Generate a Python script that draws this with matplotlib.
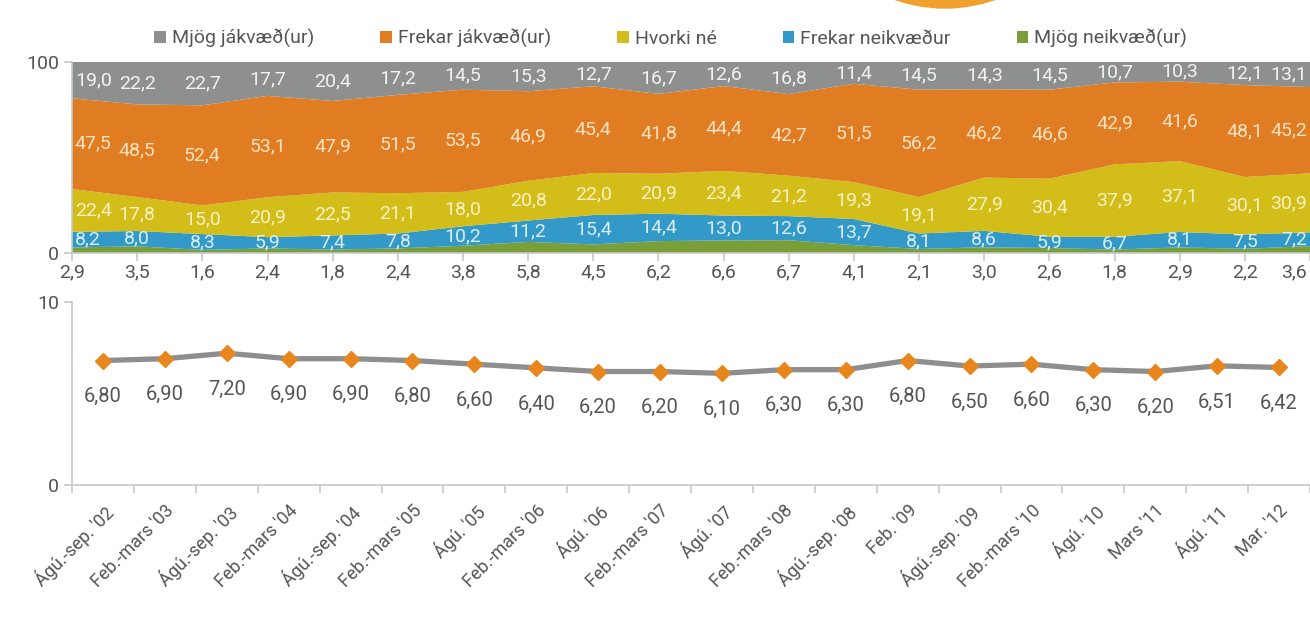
import numpy as np
import matplotlib.pyplot as plt
from matplotlib.patches import Circle

plt.rcParams['font.family'] = ['Roboto', 'DejaVu Sans']

periods = ["Ágú.-sep. '02", "Feb.-mars '03", "Ágú.-sep. '03", "Feb.-mars '04",
           "Ágú.-sep. '04", "Feb.-mars '05", "Ágú. '05", "Feb.-mars '06",
           "Ágú. '06", "Feb.-mars '07", "Ágú. '07", "Feb.-mars '08",
           "Ágú.-sep. '08", "Feb. '09", "Ágú.-sep. '09", "Feb.-mars '10",
           "Ágú. '10", "Mars '11", "Ágú. '11", "Mar. '12"]

mjog_jakv = [19.0, 22.2, 22.7, 17.7, 20.4, 17.2, 14.5, 15.3, 12.7, 16.7,
             12.6, 16.8, 11.4, 14.5, 14.3, 14.5, 10.7, 10.3, 12.1, 13.1]
frekar_jakv = [47.5, 48.5, 52.4, 53.1, 47.9, 51.5, 53.5, 46.9, 45.4, 41.8,
               44.4, 42.7, 51.5, 56.2, 46.2, 46.6, 42.9, 41.6, 48.1, 45.2]
hvorki = [22.4, 17.8, 15.0, 20.9, 22.5, 21.1, 18.0, 20.8, 22.0, 20.9,
          23.4, 21.2, 19.3, 19.1, 27.9, 30.4, 37.9, 37.1, 30.1, 30.9]
frekar_neikv = [8.2, 8.0, 8.3, 5.9, 7.4, 7.8, 10.2, 11.2, 15.4, 14.4,
                13.0, 12.6, 13.7, 8.1, 8.6, 5.9, 6.7, 8.1, 7.5, 7.2]
mjog_neikv = [2.9, 3.5, 1.6, 2.4, 1.8, 2.4, 3.8, 5.8, 4.5, 6.2,
              6.6, 6.7, 4.1, 2.1, 3.0, 2.6, 1.8, 2.9, 2.2, 3.6]

einkunn = [6.80, 6.90, 7.20, 6.90, 6.90, 6.80, 6.60, 6.40, 6.20, 6.20,
           6.10, 6.30, 6.30, 6.80, 6.50, 6.60, 6.30, 6.20, 6.51, 6.42]

series_names = ['Mjög neikvæð(ur)', 'Frekar neikvæður', 'Hvorki né',
                'Frekar jákvæð(ur)', 'Mjög jákvæð(ur)']
colors = ['#7a9e38', '#3399c8', '#d3bd18', '#e07c22', '#8e8f8f']
label_colors = [None, '#d8eef3', '#f7f1c4', '#fbe2c2', '#f2f2f2']

txt_grey = '#555555'
axis_grey = '#c8c8c8'

fig = plt.figure(figsize=(13.1, 6.27), dpi=100)

# efri mynd - staflad svæði
ax1 = fig.add_axes([0.055, 0.5965, 0.945, 0.3046])
x = np.arange(len(periods))
stack = [mjog_neikv, frekar_neikv, hvorki, frekar_jakv, mjog_jakv]
ax1.stackplot(x, *stack, colors=colors, labels=series_names, lw=0)
ax1.set_xlim(0, len(periods) - 1)
ax1.set_ylim(0, 100)
ax1.set_yticks([0, 100])
ax1.set_yticklabels(['0', '100'], color=txt_grey, fontsize=14)
ax1.set_xticks(x)
ax1.set_xticklabels([])
ax1.tick_params(axis='both', color=axis_grey, length=6, width=1.2)
for s in ['top', 'right']:
    ax1.spines[s].set_visible(False)
ax1.spines['left'].set_color(axis_grey)
ax1.spines['bottom'].set_color(axis_grey)
ax1.spines['left'].set_linewidth(1.2)
ax1.spines['bottom'].set_linewidth(1.2)

n = len(periods)
base = np.zeros(n)
for k, vals in enumerate(stack):
    vals = np.array(vals)
    for i, v in enumerate(vals):
        lab = f'{v:.1f}'.replace('.', ',')
        ha, dx = 'center', 0
        if i == n - 1:
            ha, dx = 'right', -2
        if k == 0:
            ax1.annotate(lab, (i, 0), xytext=(dx, -14),
                         textcoords='offset points', ha=ha, va='center',
                         fontsize=14, color=txt_grey, annotation_clip=False)
        else:
            if i == 0:
                ha, dx = 'left', 2
            ax1.annotate(lab, (i, base[i] + v / 2), xytext=(dx, 0),
                         textcoords='offset points', ha=ha, va='center',
                         fontsize=14, color=label_colors[k])
    base += vals

handles, labels = ax1.get_legend_handles_labels()
fig.legend(handles[::-1], labels[::-1], loc='center', bbox_to_anchor=(0.512, 0.939),
           ncol=5, frameon=False, fontsize=14, handlelength=0.6, handleheight=0.6,
           handletextpad=0.3, columnspacing=3.4, labelcolor=txt_grey)

# neðri mynd - meðaleinkunn
ax2 = fig.add_axes([0.055, 0.2265, 0.945, 0.2919])
ax2.plot(x, einkunn, color='#8e8e8e', lw=3.8, marker='D', ms=8,
         mfc='#e8861e', mec='#e8861e', zorder=3)
for i, v in enumerate(einkunn):
    ax2.annotate(f'{v:.2f}'.replace('.', ','), (i, v), xytext=(0, -26),
                 textcoords='offset points', ha='center', va='center',
                 fontsize=14.5, color=txt_grey)
ax2.set_xlim(-0.5, n - 0.5)
ax2.set_ylim(0, 10)
ax2.set_yticks([0, 10])
ax2.set_yticklabels(['0', '10'], color=txt_grey, fontsize=14)
ax2.set_xticks(np.arange(n + 1) - 0.5)
ax2.set_xticklabels([])
ax2.set_xticks(x, minor=True)
ax2.set_xticklabels(periods, minor=True, rotation=45, ha='right',
                    rotation_mode='anchor', color=txt_grey, fontsize=13)
ax2.tick_params(axis='x', which='minor', length=0, pad=12)
ax2.tick_params(axis='both', which='major', color=axis_grey, length=6, width=1.2)
for s in ['top', 'right']:
    ax2.spines[s].set_visible(False)
ax2.spines['left'].set_color(axis_grey)
ax2.spines['bottom'].set_color(axis_grey)
ax2.spines['left'].set_linewidth(1.2)
ax2.spines['bottom'].set_linewidth(1.2)

# appelsínugulur hringur efst
fig.patches.append(Circle((945, 627 + 142), 150, transform=None,
                          color='#f0a02c', zorder=0))

fig.savefig('out.png', dpi=100)
